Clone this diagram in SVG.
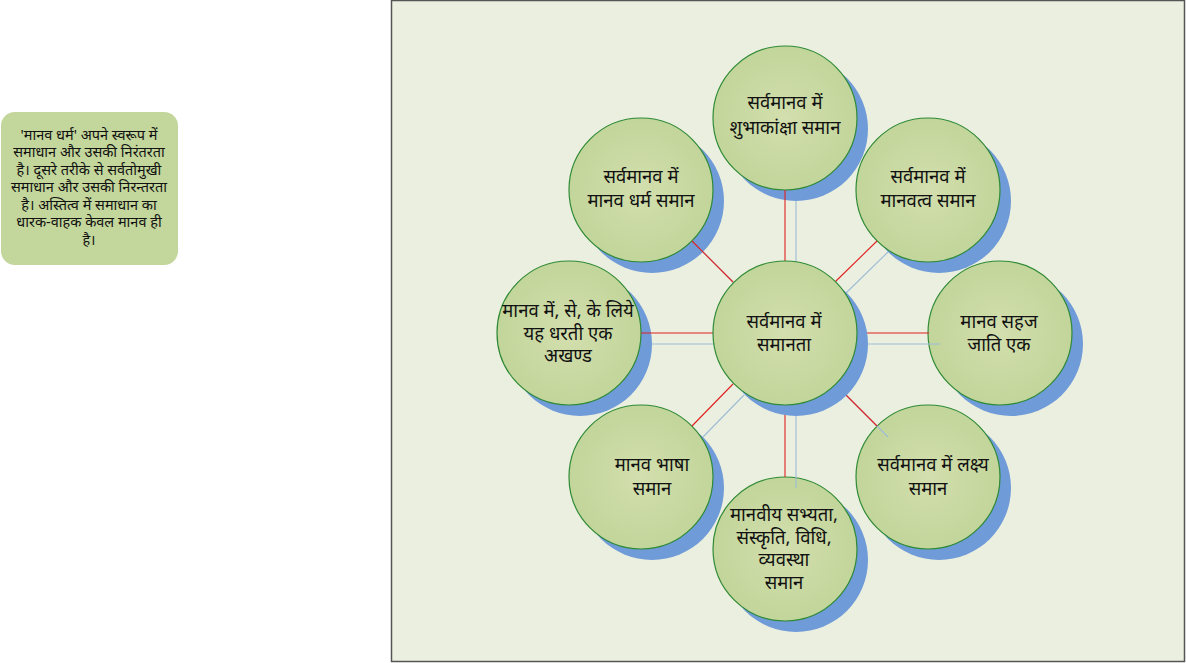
<svg xmlns="http://www.w3.org/2000/svg" width="1186" height="663" viewBox="0 0 1186 663">
<defs>
<radialGradient id="g" cx="50%" cy="50%" r="50%">
<stop offset="0" stop-color="#d3dfae"/>
<stop offset="1" stop-color="#c2d59a"/>
</radialGradient>
<style>
.sh{fill:#6f9bd9}
.c{fill:url(#g);stroke:#2f8a35;stroke-width:1.2}
.t{font-family:"Noto Sans","Noto Sans Devanagari",sans-serif;font-size:18.5px;fill:#111;text-anchor:middle}
.s{font-family:"Noto Sans","Noto Sans Devanagari",sans-serif;font-size:14.5px;fill:#111;text-anchor:middle}
.r{stroke:#e02020;stroke-width:1.1}
.b{stroke:#9dbcd8;stroke-width:1.1}
</style>
</defs>
<rect x="0" y="0" width="1186" height="663" fill="#ffffff"/>
<rect x="391.5" y="0.5" width="793" height="661" fill="#ebefdf" stroke="#555" stroke-width="1.5"/>

<g id="note">
<rect x="1" y="112" width="177" height="153" rx="14" fill="#c3d69b"/>
<text class="s" x="89" y="140">'मानव धर्म' अपने स्वरूप में</text>
<text class="s" x="89" y="157">समाधान और उसकी निरंतरता</text>
<text class="s" x="89" y="175">है। दूसरे तरीके से सर्वतोमुखी</text>
<text class="s" x="89" y="192">समाधान और उसकी निरन्तरता</text>
<text class="s" x="89" y="210">है। अस्तित्व में समाधान का</text>
<text class="s" x="89" y="227">धारक-वाहक केवल मानव ही</text>
<text class="s" x="89" y="245">है।</text>
</g>

<g id="n-top"><circle class="sh" cx="796" cy="129" r="72"/><circle class="c" cx="785" cy="118" r="72"/>
<text class="t" x="785" y="109">सर्वमानव में</text><text class="t" x="785" y="134">शुभाकांक्षा समान</text></g>
<g id="n-topleft"><circle class="sh" cx="652" cy="201" r="72"/><circle class="c" cx="641" cy="190" r="72"/>
<text class="t" x="641" y="183">सर्वमानव में</text><text class="t" x="641" y="207">मानव धर्म समान</text></g>
<g id="n-topright"><circle class="sh" cx="939" cy="201" r="72"/><circle class="c" cx="928" cy="190" r="72"/>
<text class="t" x="928" y="183">सर्वमानव में</text><text class="t" x="928" y="207">मानवत्व समान</text></g>
<g id="n-left"><circle class="sh" cx="580" cy="344" r="72"/><circle class="c" cx="569" cy="333" r="72"/>
<text class="t" x="568" y="317">मानव में, से, के लिये</text><text class="t" x="568" y="340">यह धरती एक</text><text class="t" x="568" y="362">अखण्ड</text></g>
<g id="n-right"><circle class="sh" cx="1011" cy="344" r="72"/><circle class="c" cx="1000" cy="333" r="72"/>
<text class="t" x="999" y="328">मानव सहज</text><text class="t" x="999" y="351">जाति एक</text></g>
<g id="n-bottomleft"><circle class="sh" cx="652" cy="488" r="72"/><circle class="c" cx="641" cy="477" r="72"/>
<text class="t" x="652" y="471">मानव भाषा</text><text class="t" x="652" y="495">समान</text></g>
<g id="n-bottomright"><circle class="sh" cx="939" cy="488" r="72"/><circle class="c" cx="928" cy="477" r="72"/>
<text class="t" x="933" y="471">सर्वमानव में लक्ष्य</text><text class="t" x="928" y="495">समान</text></g>
<g id="n-bottom"><circle class="sh" cx="796" cy="560" r="72"/><circle class="c" cx="785" cy="549" r="72"/>
<text class="t" x="784" y="521">मानवीय सभ्यता,</text><text class="t" x="784" y="544">संस्कृति, विधि,</text><text class="t" x="784" y="566">व्यवस्था</text><text class="t" x="784" y="589">समान</text></g>

<g id="connectors">
<line class="b" x1="796" y1="201" x2="796" y2="272"/>
<line class="b" x1="703" y1="252" x2="744" y2="293"/>
<line class="b" x1="888" y1="252" x2="846" y2="293"/>
<line class="b" x1="652" y1="344" x2="724" y2="344"/>
<line class="b" x1="868" y1="344" x2="940" y2="344"/>
<line class="b" x1="744" y1="395" x2="703" y2="437"/>
<line class="b" x1="846" y1="395" x2="888" y2="437"/>
<line class="b" x1="796" y1="416" x2="796" y2="488"/>
<line class="r" x1="785" y1="190" x2="785" y2="261"/>
<line class="r" x1="692" y1="241" x2="733" y2="282"/>
<line class="r" x1="877" y1="241" x2="835" y2="282"/>
<line class="r" x1="641" y1="333" x2="713" y2="333"/>
<line class="r" x1="857" y1="333" x2="929" y2="333"/>
<line class="r" x1="733" y1="384" x2="692" y2="426"/>
<line class="r" x1="835" y1="384" x2="877" y2="426"/>
<line class="r" x1="785" y1="405" x2="785" y2="477"/>
</g>

<g id="n-center"><circle class="sh" cx="796" cy="344" r="72"/><circle class="c" cx="785" cy="333" r="72"/>
<text class="t" x="784" y="328">सर्वमानव में</text><text class="t" x="784" y="351">समानता</text></g>
</svg>
